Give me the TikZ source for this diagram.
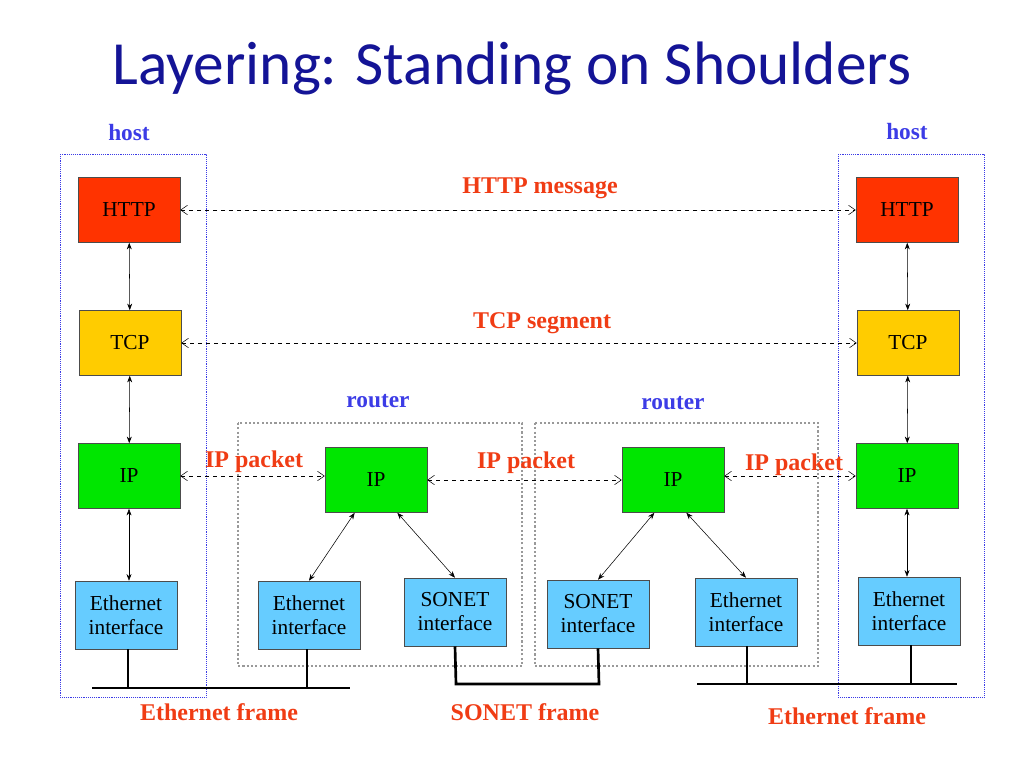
\documentclass[tikz,border=0pt]{standalone}
\usepackage{fontspec}
\setmainfont{Liberation Serif}
\newfontfamily\titlefont{Carlito}
\usetikzlibrary{arrows.meta}
\definecolor{httpred}{RGB}{255,51,0}
\definecolor{tcpgold}{RGB}{255,204,0}
\definecolor{ipgreen}{RGB}{0,230,0}
\definecolor{ifblue}{RGB}{102,204,255}
\definecolor{lblred}{RGB}{240,60,20}
\definecolor{hostblue}{RGB}{60,60,230}
\definecolor{titleblue}{RGB}{20,20,150}
\tikzset{
 lay/.style={draw=black!70,minimum width=76.5pt,minimum height=48.75pt,inner sep=0pt,font=\fontsize{16}{18}\selectfont,align=center},
 httpbox/.style={lay,fill=httpred},
 tcpbox/.style={lay,fill=tcpgold},
 ipbox/.style={lay,fill=ipgreen},
 ifbox/.style={lay,fill=ifblue,minimum height=51pt},
 peer/.style={dashed,{Straight Barb[length=5pt,width=7pt]}-{Straight Barb[length=5pt,width=7pt]},thin},
 vert/.style={{Stealth[length=5pt]}-{Stealth[length=5pt]},thin},
 lbl/.style={text=lblred,font=\bfseries\fontsize{18}{20}\selectfont},
 hlbl/.style={text=hostblue,font=\bfseries\fontsize{17.5}{19}\selectfont},
 hostframe/.style={draw=hostblue,densely dotted,thin},
 rtframe/.style={draw=gray!80,line width=1.6pt,dash pattern=on 1.6pt off 1.6pt},
 wire/.style={line width=2pt}
}
\begin{document}
\begin{tikzpicture}[x=0.75pt,y=-0.75pt]
\useasboundingbox (0,0) rectangle (1024,768);
\node[text=titleblue,font=\titlefont\fontsize{46}{50}\selectfont] at (512,68) {Layering: Standing on Shoulders};
% frames
\draw[hostframe] (60,154) rectangle (206,697);
\draw[hostframe] (838,154) rectangle (984,697);
\draw[rtframe] (238,423) rectangle (522,666);
\draw[rtframe] (535,423) rectangle (818,666);
% labels
\node[hlbl] at (129,133) {host};
\node[hlbl] at (907,132) {host};
\node[hlbl] at (378,401) {router};
\node[hlbl] at (673,403) {router};
% left host
\node[httpbox] (h1) at (129,210) {HTTP};
\node[tcpbox] (t1) at (130,343) {TCP};
\node[ipbox] (i1) at (129,476) {IP};
\node[ifbox] (e1) at (126,615) {Ethernet\\interface};
% right host
\node[httpbox] (h2) at (907,210) {HTTP};
\node[tcpbox] (t2) at (908,343) {TCP};
\node[ipbox] (i2) at (907,476) {IP};
\node[ifbox] (e2) at (909,611) {Ethernet\\interface};
% router 1
\node[ipbox] (r1) at (376,480) {IP};
\node[ifbox] (r1e) at (309,615) {Ethernet\\interface};
\node[ifbox] (r1s) at (455,612) {SONET\\interface};
% router 2
\node[ipbox] (r2) at (673,480) {IP};
\node[ifbox] (r2s) at (598,614) {SONET\\interface};
\node[ifbox] (r2e) at (746,612) {Ethernet\\interface};
% vertical arrows
\draw[vert] (h1) -- (t1); \draw[vert] (t1) -- (i1); \draw[vert] (i1) -- (e1.north -| i1);
\draw[vert] (h2) -- (t2); \draw[vert] (t2) -- (i2); \draw[vert] (i2) -- (e2.north -| i2);
\draw[vert] ([xshift=-16pt]r1.south) -- (r1e.north);
\draw[vert] ([xshift=16pt]r1.south) -- (r1s.north);
\draw[vert] ([xshift=-14pt]r2.south) -- (r2s.north);
\draw[vert] ([xshift=10pt]r2.south) -- (r2e.north);
% peer arrows
\draw[peer] (h1.east) -- (h2.west);
\draw[peer] (t1.east) -- (t2.west);
\draw[peer] (i1.east) -- (r1.west |- i1.east);
\draw[peer] (r1.east) -- (r2.west);
\draw[peer] (r2.east |- i2.west) -- (i2.west);
\node[lbl] at (540,188) {HTTP message};
\node[lbl] at (542,323) {TCP segment};
\node[lbl] at (254,462) {IP packet};
\node[lbl] at (526,463) {IP packet};
\node[lbl] at (794,465) {IP packet};
% wires
\coordinate (b1l) at (92,688); \coordinate (b1r) at (350,688);
\draw[wire] (b1l) -- (b1r);
\draw[wire] (e1.south -| 128,0) -- (128,688);
\draw[wire] (r1e.south -| 307,0) -- (307,688);
\draw[wire] (r1s.south) -- (456,684) -- (599,684) -- (r2s.south);
\coordinate (b3l) at (697,684); \coordinate (b3r) at (957,684);
\draw[wire] (b3l) -- (b3r);
\draw[wire] (r2e.south -| 747,0) -- (747,684);
\draw[wire] (e2.south -| 911,0) -- (911,684);
\node[lbl] at (219,712) {Ethernet frame};
\node[lbl] at (525,712) {SONET frame};
\node[lbl] at (847,716) {Ethernet frame};
\end{tikzpicture}
\end{document}
